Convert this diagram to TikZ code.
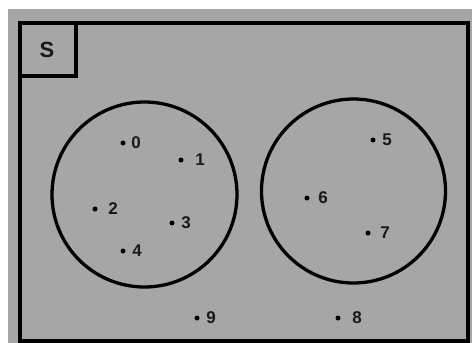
\documentclass[tikz,border=0pt]{standalone}
\usepackage{fontspec}
\setmainfont{Liberation Sans}
\usepackage{tikz}
\usetikzlibrary{positioning}

\definecolor{setgray}{RGB}{166,166,166}
\tikzset{
  elem/.style={circle,fill=black,inner sep=0pt,minimum size=5pt},
  lab/.style={font=\fontsize{17}{17}\selectfont\bfseries,text=black!90,inner sep=0pt},
  setline/.style={line width=3.3pt,black}
}

\begin{document}
\begin{tikzpicture}[x=1pt,y=-1pt]
  \useasboundingbox (0,0) rectangle (472,343);
  \fill[white] (0,0) rectangle (472,343);
  \fill[setgray] (8,9) rectangle (472,343);
  % universal set
  \draw[setline,line width=3.6pt] (20,23) rectangle (468,341);
  \draw[setline,line width=3.6pt] (20,23) rectangle (76,76);
  \node[lab,font=\fontsize{22}{22}\selectfont\bfseries] (S) at (47,50) {S};
  % the two sets
  \draw[setline] (144.5,194.5) circle (92.5);
  \draw[setline] (353.5,191) circle (92);
  % elements: dot x/y, label x
  \foreach \n/\x/\y/\lx in {0/123/143/136, 1/181/160/200, 2/95/209/113,
      3/172/223/186, 4/123/251/137, 5/373/140/387, 6/307/198/323,
      7/368/233/385, 8/338/318/357, 9/197/318/211}{
    \node[elem] (e\n) at (\x,\y) {};
    \node[lab] (l\n) at (\lx,\y) {\n};
  }
\end{tikzpicture}
\end{document}
